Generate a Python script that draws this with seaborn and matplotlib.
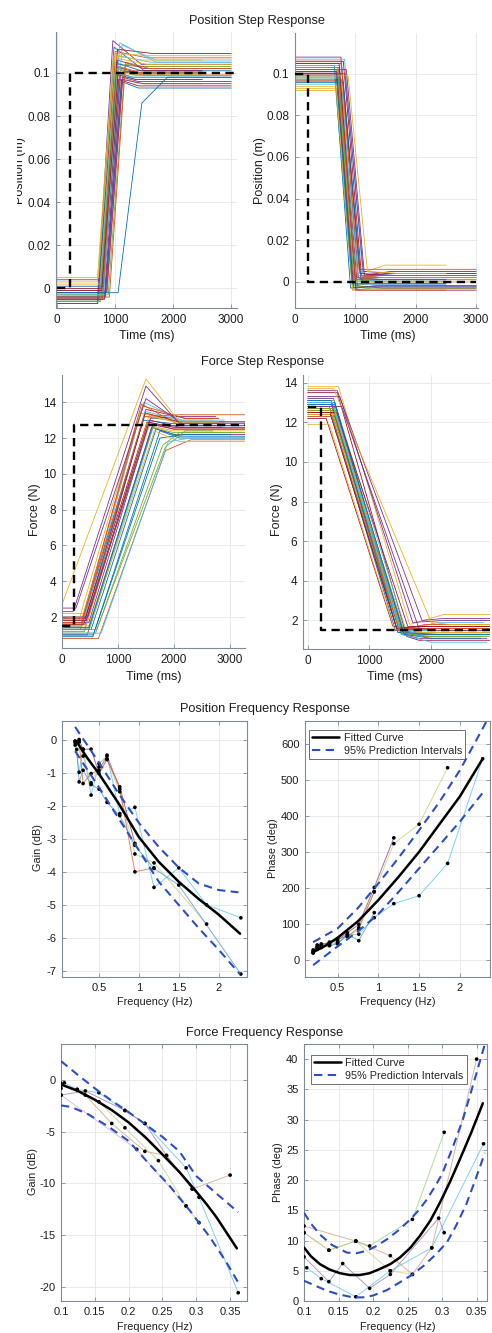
import numpy as np
import pandas as pd
import matplotlib
matplotlib.use('Agg')
import matplotlib.pyplot as plt
import seaborn as sns
from matplotlib.patches import Rectangle

W, H = 492, 1333

# MATLAB default colour order
matlab_colors = ['#0072BD', '#D95319', '#EDB120', '#7E2F8E', '#77AC30', '#4DBEEE', '#A2142F']
BLUE = '#2b4fc2'
AX_GRAY = '#7f8c98'
GRID = '#e2e7ec'

# ---------------- Position step response (up) ----------------
pu_y0 = [-0.006, -0.005, -0.003, -0.007, -0.004, -0.002, -0.006, 0.001, -0.005, -0.003, 0.004, -0.006,
         -0.001, -0.004, -0.007, -0.002, 0.002, -0.005, -0.003, -0.006, 0.000, -0.004, -0.005, 0.005,
         -0.002, -0.006, -0.003, -0.001, -0.002, -0.004, 0.003, -0.005]
pu_t0 = [700, 720, 740, 690, 760, 780, 710, 800, 730, 820, 770, 750, 840, 790, 700, 860,
         740, 810, 880, 720, 760, 830, 780, 710, 850, 740, 800, 770, 1050, 900, 690, 820]
pu_t1 = [980, 1000, 1010, 960, 1040, 1060, 990, 1080, 1000, 1100, 1040, 1030, 1120, 1060, 980, 1140,
         1020, 1090, 1170, 1000, 1040, 1110, 1060, 990, 1130, 1010, 1080, 1050, 1460, 1180, 970, 1110]
pu_pk = [0.112, 0.104, 0.101, 0.115, 0.099, 0.108, 0.103, 0.100, 0.110, 0.098, 0.106, 0.102, 0.113,
         0.097, 0.105, 0.101, 0.109, 0.099, 0.104, 0.100, 0.111, 0.096, 0.103, 0.107, 0.098, 0.102,
         0.114, 0.100, 0.086, 0.105, 0.108, 0.097]
pu_t2 = [1500, 1400, 1300, 1450, 1350, 1600, 1400, 1300, 1550, 1400, 1500, 1350, 1700, 1400, 1450, 1500,
         1600, 1350, 1500, 1300, 1650, 1400, 1450, 1550, 1400, 1350, 1700, 1400, 1900, 1600, 1450, 1500]
pu_yf = [0.101, 0.103, 0.099, 0.104, 0.097, 0.105, 0.100, 0.098, 0.107, 0.095, 0.102, 0.100, 0.106,
         0.094, 0.101, 0.099, 0.108, 0.097, 0.103, 0.098, 0.109, 0.093, 0.100, 0.104, 0.096, 0.099,
         0.105, 0.101, 0.098, 0.102, 0.106, 0.095]
pu_tend = [3000, 2500, 3000, 3000, 2500, 3000, 2500, 3000, 3000, 2500, 3000, 2500, 3000, 3000, 2500, 3000,
           3000, 2500, 3000, 2500, 3000, 3000, 2500, 3000, 3000, 2500, 3000, 2500, 3000, 3000, 2500, 3000]
pu_ref_t = [0, 220, 220, 3100]
pu_ref_v = [0, 0, 0.1, 0.1]

# ---------------- Position step response (down) ----------------
pd_y0 = [0.104, 0.100, 0.097, 0.108, 0.102, 0.095, 0.106, 0.099, 0.101, 0.093, 0.103, 0.098, 0.107,
         0.100, 0.096, 0.105, 0.092, 0.102, 0.099, 0.104, 0.097, 0.101, 0.106, 0.094, 0.100, 0.103,
         0.098, 0.105, 0.096, 0.102, 0.099, 0.101]
pd_t0 = [650, 700, 720, 760, 680, 740, 800, 690, 710, 780, 730, 660, 820, 750, 700, 770,
         690, 850, 720, 740, 790, 680, 760, 710, 830, 700, 750, 730, 800, 720, 880, 690]
pd_t1 = [920, 980, 1000, 1050, 950, 1020, 1100, 960, 990, 1070, 1010, 940, 1120, 1030, 980, 1060,
         960, 1150, 1000, 1020, 1080, 950, 1040, 990, 1130, 980, 1040, 1010, 1090, 1000, 1200, 970]
pd_bot = [-0.003, 0.001, -0.002, 0.002, -0.004, 0.000, 0.003, -0.001, 0.002, 0.004, -0.003, 0.000,
          0.004, -0.002, 0.001, 0.006, -0.004, 0.003, 0.001, -0.003, 0.004, -0.001, 0.002, 0.000,
          0.005, -0.002, 0.003, -0.004, 0.001, 0.002, 0.005, -0.003]
pd_t2 = [1300, 1400, 1350, 1500, 1300, 1450, 1600, 1350, 1400, 1500, 1350, 1300, 1700, 1450, 1400, 1550,
         1300, 1650, 1400, 1350, 1500, 1300, 1450, 1400, 1600, 1350, 1500, 1300, 1550, 1400, 1700, 1350]
pd_yf = [-0.002, 0.003, 0.000, 0.004, -0.003, 0.001, 0.005, -0.001, 0.002, 0.008, -0.002, 0.001,
         0.003, -0.003, 0.002, 0.006, -0.004, 0.004, 0.000, -0.002, 0.003, -0.001, 0.001, 0.000,
         0.004, -0.003, 0.002, -0.004, 0.001, 0.003, 0.004, -0.002]
pd_tend = [3000, 2500, 3000, 2500, 3000, 2500, 3000, 2500, 3000, 2500, 3000, 2500, 3000, 3000, 2500, 3000,
           2500, 3000, 2500, 3000, 3000, 2500, 3000, 2500, 3000, 3000, 2500, 3000, 2500, 3000, 2500, 3000]
pd_ref_t = [0, 215, 215, 3000]
pd_ref_v = [0.1, 0.1, 0, 0]

# ---------------- Force step response (up) ----------------
fu_y0 = [1.5, 1.2, 1.8, 1.0, 2.0, 1.4, 1.6, 0.9, 1.3, 2.2, 1.7, 1.1, 1.5, 1.9, 1.3, 0.8,
         1.6, 2.5, 1.4, 1.2, 1.8, 1.0, 1.7, 1.5, 2.0, 1.3, 1.1, 1.6, 1.4, 1.9, 2.7, 2.3]
fu_t0 = [350, 400, 300, 450, 380, 500, 420, 550, 330, 450, 480, 600, 360, 410, 520, 650,
         440, 250, 470, 390, 430, 560, 340, 500, 460, 620, 700, 390, 480, 370, 0, 200]
fu_t1 = [1450, 1520, 1380, 1600, 1470, 1650, 1500, 1750, 1420, 1560, 1580, 1800, 1460, 1520, 1680, 1850,
         1560, 1500, 1620, 1480, 1530, 1750, 1440, 1650, 1570, 1850, 1900, 1490, 1620, 1460, 1500, 1500]
fu_pk = [13.0, 12.9, 13.4, 12.6, 13.2, 12.8, 13.6, 12.4, 13.9, 12.7, 13.1, 11.6, 14.0, 12.9, 12.5, 11.3,
         13.3, 14.2, 12.6, 13.5, 12.8, 12.0, 13.8, 12.4, 13.0, 11.5, 11.8, 13.4, 12.7, 13.2, 15.3, 14.9]
fu_t2 = [2000, 2000, 2100, 2000, 2100, 2000, 2200, 2100, 2100, 2000, 2100, 2100, 2200, 2000, 2100, 2300,
         2100, 2200, 2000, 2100, 2000, 2200, 2200, 2100, 2100, 2200, 2300, 2100, 2000, 2100, 2100, 2100]
fu_yf = [12.8, 12.5, 13.0, 12.2, 12.9, 12.6, 13.1, 12.0, 12.7, 12.4, 13.2, 12.3, 12.9, 12.6, 12.1, 11.9,
         12.8, 12.7, 12.3, 13.0, 12.5, 12.2, 13.1, 11.8, 12.6, 12.4, 12.0, 12.9, 12.7, 13.3, 12.9, 12.8]
fu_tend = [2800, 3270, 2700, 3270, 2900, 3270, 2800, 3270, 3000, 3270, 2750, 3270, 3270, 2850, 3270, 3270,
           2700, 3270, 3270, 2900, 3270, 3000, 2800, 3270, 3270, 2700, 3270, 3270, 2950, 3270, 2800, 3270]
fu_ref_t = [0, 215, 215, 3270]
fu_ref_v = [1.5, 1.5, 12.75, 12.75]

# ---------------- Force step response (down) ----------------
fd_y0 = [12.8, 13.0, 12.5, 13.2, 12.7, 12.3, 13.5, 12.9, 12.6, 13.8, 12.4, 13.1, 12.8, 12.2, 13.0, 12.7,
         11.9, 13.3, 12.6, 12.9, 12.5, 13.1, 12.8, 12.4, 13.6, 12.7, 13.0, 12.5, 12.9, 12.3, 13.7, 12.8]
fd_t0 = [350, 380, 400, 420, 360, 450, 480, 390, 410, 500, 370, 430, 460, 300, 440, 400,
         350, 520, 390, 410, 470, 380, 430, 450, 480, 420, 400, 360, 440, 390, 420, 550]
fd_t1 = [1420, 1460, 1500, 1520, 1430, 1560, 1600, 1480, 1500, 1650, 1450, 1530, 1580, 1380, 1540, 1490,
         1400, 1700, 1480, 1510, 1620, 1460, 1540, 1560, 1850, 1520, 1500, 1440, 1560, 1480, 2000, 1800]
fd_bot = [1.5, 1.4, 1.6, 1.3, 1.7, 1.5, 1.2, 1.6, 1.4, 1.8, 1.5, 1.3, 1.6, 1.7, 1.4, 1.5,
          1.6, 1.9, 1.5, 1.3, 1.7, 1.4, 1.6, 1.5, 2.0, 1.4, 1.5, 1.6, 1.3, 1.5, 1.9, 1.6]
fd_t2 = [1800, 1900, 2000, 1800, 1900, 2100, 1800, 2000, 1900, 2200, 1800, 2000, 1900, 1800, 2100, 1900,
         1800, 2200, 1900, 2000, 2100, 1800, 2000, 1900, 2200, 1900, 2000, 1800, 2000, 1900, 2300, 2100]
fd_yf = [1.4, 1.2, 1.8, 1.1, 1.6, 1.9, 1.0, 1.5, 1.3, 2.3, 1.6, 1.2, 1.7, 1.5, 1.3, 1.8,
         1.4, 2.0, 1.5, 0.9, 1.7, 1.3, 1.6, 1.4, 2.1, 1.2, 1.5, 1.7, 1.1, 1.6, 1.8, 1.5]
fd_tend = [2950, 2800, 2950, 2900, 2950, 2850, 2950, 2950, 2800, 2950, 2900, 2950, 2950, 2850, 2950, 2950,
           2800, 2950, 2950, 2900, 2950, 2950, 2850, 2950, 2950, 2900, 2950, 2950, 2800, 2950, 2950, 2950]
fd_ref_t = [0, 220, 220, 2950]
fd_ref_v = [12.75, 12.75, 1.5, 1.5]

# ---------------- Position frequency response ----------------
pg_f = [[0.2, 0.25, 0.3, 0.4, 0.5, 0.6, 0.76, 0.95, 1.19, 1.5, 1.85, 2.28],
        [0.2, 0.25, 0.3, 0.4, 0.5, 0.6, 0.76, 0.95, 1.19, 1.85],
        [0.2, 0.25, 0.3, 0.4, 0.5, 0.6, 0.76, 0.95],
        [0.2, 0.25, 0.3, 0.4, 0.5, 0.6, 0.76, 0.95, 1.19],
        [0.22, 0.25, 0.3, 0.4, 0.5, 0.6, 0.76, 0.95, 1.19, 1.5, 2.28]]
pg_g = [[-0.05, -0.99, -0.29, -1.68, -0.73, -0.5, -2.24, -2.05, -4.47, -3.88, -5.0, -5.39],
        [-0.1, -0.05, -0.5, -1.31, -0.83, -0.6, -1.58, -3.46, -3.73, -5.58],
        [-0.05, 0.0, -0.3, -0.29, -1.03, -0.6, -1.43, -3.14],
        [-0.17, -0.07, -1.33, -1.03, -0.93, -0.47, -1.5, -4.0, -3.88],
        [-0.3, -1.28, -0.93, -1.36, -1.5, -1.9, -2.3, -3.2, -3.9, -4.4, -7.09]]
pg_fit_f = [0.22, 0.35, 0.5, 0.75, 1.0, 1.25, 1.5, 1.75, 2.0, 2.27]
pg_fit_g = [-0.07, -0.55, -1.04, -1.95, -2.95, -3.7, -4.3, -4.82, -5.29, -5.87]
pg_up_f = [0.2, 0.5, 0.75, 1.0, 1.25, 1.5, 1.75, 2.0, 2.25]
pg_up_g = [0.38, -0.7, -1.65, -2.52, -3.25, -3.87, -4.35, -4.55, -4.62]
pg_lo_f = [0.2, 0.5, 0.75, 1.0, 1.25, 1.5, 1.75, 2.0, 2.27]
pg_lo_g = [-0.35, -1.45, -2.4, -3.35, -4.3, -5.0, -5.7, -6.35, -7.1]
pg_colors = ['#4DBEEE', '#c2c86a', '#7E2F8E', '#D95319', '#3b8fd0']

pp_f = [[0.2, 0.25, 0.3, 0.4, 0.5, 0.62, 0.76, 0.95, 1.19, 1.5, 1.85],
        [0.2, 0.25, 0.3, 0.4, 0.5, 0.62, 0.76, 0.95, 1.19, 1.5, 1.85, 2.28],
        [0.2, 0.25, 0.3, 0.4, 0.5, 0.62, 0.76, 0.95, 1.19],
        [0.2, 0.25, 0.3, 0.4, 0.5, 0.62, 0.76, 0.95],
        [0.2, 0.25, 0.3, 0.4, 0.5, 0.62, 0.76, 0.95]]
pp_ph = [[22, 35, 40, 45, 50, 65, 85, 190, 324, 378, 535],
         [20, 30, 38, 42, 48, 70, 72, 118, 157, 179, 269, 560],
         [25, 38, 42, 50, 55, 76, 99, 202, 340],
         [28, 42, 45, 48, 60, 66, 90, 190],
         [20, 32, 35, 40, 45, 72, 54, 132]]
pp_fit_f = [0.2, 0.35, 0.5, 0.75, 1.0, 1.25, 1.5, 1.75, 2.0, 2.28]
pp_fit_ph = [22, 40, 62, 108, 167, 232, 301, 378, 455, 560]
pp_up_f = [0.2, 0.5, 0.75, 1.0, 1.25, 1.5, 1.75, 2.0, 2.33]
pp_up_ph = [50, 88, 145, 213, 285, 361, 440, 528, 665]
pp_lo_f = [0.2, 0.5, 0.75, 1.0, 1.25, 1.5, 1.75, 2.0, 2.28]
pp_lo_ph = [-14, 38, 80, 128, 190, 255, 320, 385, 465]
pp_colors = ['#c2c86a', '#4DBEEE', '#7E2F8E', '#D95319', '#3b8fd0']

# ---------------- Force frequency response ----------------
fg_f = [[0.1, 0.105, 0.124, 0.156, 0.1945, 0.224, 0.285, 0.304, 0.362],
        [0.1, 0.124, 0.156, 0.1945, 0.244, 0.285, 0.304],
        [0.1, 0.136, 0.175, 0.224, 0.256, 0.294, 0.35],
        [0.1, 0.136, 0.1945, 0.224, 0.256, 0.294],
        [0.1, 0.212, 0.285]]
fg_g = [[-0.8, -0.26, -0.9, -1.22, -2.94, -4.2, -8.5, -11.35, -20.6],
        [-0.5, -0.9, -2.1, -4.62, -7.8, -12.2, -13.8],
        [-0.3, -1.45, -4.2, -6.9, -7.3, -10.55, -9.2],
        [-1.45, -1.05, -2.94, -4.2, -7.3, -10.55],
        [-1.45, -6.7, -12.2]]
fg_fit_f = [0.1, 0.125, 0.15, 0.175, 0.2, 0.225, 0.25, 0.275, 0.3, 0.315, 0.33, 0.345, 0.36]
fg_fit_g = [-0.42, -1.05, -1.9, -2.9, -4.1, -5.55, -7.2, -8.9, -10.8, -12.0, -13.3, -14.8, -16.3]
fg_up_f = [0.1, 0.125, 0.15, 0.175, 0.2, 0.225, 0.25, 0.275, 0.3, 0.33, 0.362]
fg_up_g = [1.84, 0.5, -0.8, -2.0, -3.1, -4.3, -5.5, -6.9, -9.3, -11.0, -12.8]
fg_lo_f = [0.1, 0.115, 0.14, 0.17, 0.2, 0.23, 0.26, 0.29, 0.32, 0.345, 0.362]
fg_lo_g = [-2.45, -2.6, -3.3, -4.5, -5.9, -8.1, -10.2, -12.6, -15.2, -17.7, -19.6]
fg_colors = ['#4DBEEE', '#b7cf7a', '#c9977a', '#9a6fa6', '#c9a6c9']

fp_f = [[0.1, 0.136, 0.175, 0.195, 0.257, 0.303],
        [0.1, 0.175, 0.225, 0.257, 0.285, 0.35],
        [0.1, 0.136, 0.156, 0.195, 0.225, 0.295, 0.303],
        [0.104, 0.125, 0.175, 0.225, 0.285, 0.36],
        [0.1, 0.136, 0.175, 0.225, 0.257]]
fp_ph = [[11.3, 8.4, 9.9, 9.1, 13.5, 27.9],
         [12.4, 9.9, 7.5, 4.4, 8.8, 40.0],
         [7.3, 3.2, 6.2, 2.1, 4.4, 13.7, 11.3],
         [5.5, 3.7, 0.7, 5.0, 8.8, 26.0],
         [11.3, 8.4, 9.9, 5.0, 4.4]]
fp_fit_f = [0.1, 0.11, 0.123, 0.137, 0.152, 0.166, 0.181, 0.195, 0.21, 0.225, 0.239, 0.254, 0.268,
            0.283, 0.297, 0.311, 0.326, 0.342, 0.359]
fp_fit_ph = [8.85, 7.4, 6.1, 5.2, 4.6, 4.3, 4.3, 4.6, 5.3, 6.1, 7.2, 8.8, 10.8,
             13.3, 16.3, 19.6, 23.5, 27.8, 32.7]
fp_up_f = [0.1, 0.11, 0.123, 0.14, 0.162, 0.176, 0.191, 0.205, 0.22, 0.237, 0.254, 0.266, 0.278,
           0.29, 0.3, 0.315, 0.33, 0.345, 0.362]
fp_up_ph = [14.6, 12.8, 11.0, 9.3, 8.0, 7.9, 8.3, 9.1, 10.2, 11.7, 13.5, 15.0, 16.8,
            19.0, 21.0, 25.3, 30.0, 35.8, 42.5]
fp_lo_f = [0.1, 0.115, 0.133, 0.15, 0.171, 0.185, 0.2, 0.22, 0.239, 0.256, 0.273, 0.29, 0.307,
           0.32, 0.335, 0.348, 0.362]
fp_lo_ph = [3.35, 2.6, 1.7, 1.1, 0.6, 0.6, 0.9, 1.8, 3.1, 4.3, 5.8, 7.6, 9.7,
            12.4, 16.0, 20.0, 24.5]
fp_colors = ['#8fc97a', '#c9977a', '#9a6fa6', '#4DBEEE', '#d8c27a']


def ax_at(fig, left, top, right, bottom):
    return fig.add_axes([left / W, 1 - bottom / H, (right - left) / W, (bottom - top) / H])


def style(ax, box, fs):
    for s in ['left', 'bottom', 'top', 'right']:
        ax.spines[s].set_visible(box or s in ('left', 'bottom'))
        ax.spines[s].set_color(AX_GRAY)
        ax.spines[s].set_linewidth(0.8)
    ax.set_facecolor('white')
    ax.grid(True, color=GRID, lw=0.6)
    ax.set_axisbelow(True)
    ax.tick_params(direction='in', length=3, width=0.6, color=AX_GRAY, labelcolor='#1e1e1e',
                   labelsize=fs, top=box, right=box, bottom=True, left=True, pad=4)
    ax.set_xlabel('')
    ax.set_ylabel('')


def set_ticks(ax, xt, yt):
    ax.set_xticks(xt)
    ax.set_xticklabels(['%g' % v for v in xt])
    ax.set_yticks(yt)
    ax.set_yticklabels(['%g' % v for v in yt])


def step_frame(y0, t0, t1, pk, t2, yf, tend):
    rows = []
    for i in range(len(y0)):
        ts = [0, t0[i], t1[i], t2[i], tend[i]]
        vs = [y0[i], y0[i], pk[i], yf[i], yf[i]]
        for t, v in zip(ts, vs):
            rows.append(('r%d' % i, t, v))
    return pd.DataFrame(rows, columns=['trial', 't', 'v'])


def draw_step(ax, df, ref_t, ref_v):
    n = df['trial'].nunique()
    pal = [matlab_colors[i % 7] for i in range(n)]
    sns.lineplot(data=df, x='t', y='v', hue='trial', palette=pal, estimator=None, sort=False,
                 legend=False, lw=0.6, ax=ax)
    ax.plot(ref_t, ref_v, color='black', lw=1.7, ls=(0, (3.5, 2.3)), zorder=5)


def freq_frame(fs, vs):
    rows = []
    for i, (f, v) in enumerate(zip(fs, vs)):
        for a, b in zip(f, v):
            rows.append(('s%d' % i, a, b))
    return pd.DataFrame(rows, columns=['subj', 'f', 'v'])


def draw_freq(ax, fs, vs, colors, fit_f, fit_v, up_f, up_v, lo_f, lo_v):
    df = freq_frame(fs, vs)
    sns.lineplot(data=df, x='f', y='v', hue='subj', palette=colors[:len(fs)], estimator=None,
                 sort=False, legend=False, lw=0.7, alpha=0.7, ax=ax)
    sns.scatterplot(data=df, x='f', y='v', color='black', s=7, edgecolor='none', ax=ax, zorder=4)
    h1, = ax.plot(fit_f, fit_v, color='black', lw=1.8, zorder=5, solid_joinstyle='round')
    h2, = ax.plot(up_f, up_v, color=BLUE, lw=1.5, ls=(0, (4, 2.6)), zorder=6)
    ax.plot(lo_f, lo_v, color=BLUE, lw=1.5, ls=(0, (4, 2.6)), zorder=6)
    return h1, h2


def add_legend(ax, h1, h2, anchor):
    leg = ax.legend([h1, h2], ['Fitted Curve', '95% Prediction Intervals'], loc='upper left',
                    bbox_to_anchor=anchor, fontsize=7.8, handlelength=2.5, handletextpad=0.4,
                    borderpad=0.3, labelspacing=0.25, fancybox=False, framealpha=1, borderaxespad=0)
    leg.get_frame().set_edgecolor('#6f6f6f')
    leg.get_frame().set_linewidth(0.7)


sns.set_theme(style='whitegrid')
plt.rcParams['font.family'] = ['Liberation Sans', 'DejaVu Sans']
plt.rcParams['axes.unicode_minus'] = False

fig = plt.figure(figsize=(W / 100, H / 100), dpi=100)
fig.patch.set_facecolor('white')

# row 1: position step
ax1 = ax_at(fig, 56, 32, 237, 308)
draw_step(ax1, step_frame(pu_y0, pu_t0, pu_t1, pu_pk, pu_t2, pu_yf, pu_tend), pu_ref_t, pu_ref_v)
style(ax1, False, 8.5)
set_ticks(ax1, [0, 1000, 2000, 3000], [0, 0.02, 0.04, 0.06, 0.08, 0.1])
ax1.set_xlim(-20, 3100)
ax1.set_ylim(-0.0091, 0.119)

ax2 = ax_at(fig, 295, 33, 478, 308)
draw_step(ax2, step_frame(pd_y0, pd_t0, pd_t1, pd_bot, pd_t2, pd_yf, pd_tend), pd_ref_t, pd_ref_v)
style(ax2, False, 8.5)
set_ticks(ax2, [0, 1000, 2000, 3000], [0, 0.02, 0.04, 0.06, 0.08, 0.1])
ax2.set_xlim(0, 3030)
ax2.set_ylim(-0.0126, 0.1196)

# row 2: force step
ax3 = ax_at(fig, 62, 375, 245, 648)
draw_step(ax3, step_frame(fu_y0, fu_t0, fu_t1, fu_pk, fu_t2, fu_yf, fu_tend), fu_ref_t, fu_ref_v)
style(ax3, False, 8.5)
set_ticks(ax3, [0, 1000, 2000, 3000], [2, 4, 6, 8, 10, 12, 14])
ax3.set_xlim(0, 3270)
ax3.set_ylim(0.27, 15.52)

ax4 = ax_at(fig, 303, 375, 490, 649)
draw_step(ax4, step_frame(fd_y0, fd_t0, fd_t1, fd_bot, fd_t2, fd_yf, fd_tend), fd_ref_t, fd_ref_v)
style(ax4, False, 8.5)
set_ticks(ax4, [0, 1000, 2000], [2, 4, 6, 8, 10, 12, 14])
ax4.set_xlim(-75, 2950)
ax4.set_ylim(0.56, 14.39)

# row 3: position frequency
ax5 = ax_at(fig, 62, 721, 247, 977)
draw_freq(ax5, pg_f, pg_g, pg_colors, pg_fit_f, pg_fit_g, pg_up_f, pg_up_g, pg_lo_f, pg_lo_g)
style(ax5, True, 8)
set_ticks(ax5, [0.5, 1, 1.5, 2], [-7, -6, -5, -4, -3, -2, -1, 0])
ax5.set_xlim(0.035, 2.357)
ax5.set_ylim(-7.18, 0.56)

ax6 = ax_at(fig, 305, 721, 490, 977)
h1, h2 = draw_freq(ax6, pp_f, pp_ph, pp_colors, pp_fit_f, pp_fit_ph, pp_up_f, pp_up_ph, pp_lo_f, pp_lo_ph)
style(ax6, True, 8)
set_ticks(ax6, [0.5, 1, 1.5, 2], [0, 100, 200, 300, 400, 500, 600])
ax6.set_xlim(0.1, 2.37)
ax6.set_ylim(-47, 665)
add_legend(ax6, h1, h2, (0.022, 0.966))

# row 4: force frequency
ax7 = ax_at(fig, 61, 1044, 247, 1301)
draw_freq(ax7, fg_f, fg_g, fg_colors, fg_fit_f, fg_fit_g, fg_up_f, fg_up_g, fg_lo_f, fg_lo_g)
style(ax7, True, 8)
set_ticks(ax7, [0.1, 0.15, 0.2, 0.25, 0.3, 0.35], [-20, -15, -10, -5, 0])
ax7.set_xlim(0.1, 0.375)
ax7.set_ylim(-21.4, 3.5)

ax8 = ax_at(fig, 304, 1044, 487, 1301)
h1, h2 = draw_freq(ax8, fp_f, fp_ph, fp_colors, fp_fit_f, fp_fit_ph, fp_up_f, fp_up_ph, fp_lo_f, fp_lo_ph)
style(ax8, True, 8)
set_ticks(ax8, [0.1, 0.15, 0.2, 0.25, 0.3, 0.35], [0, 5, 10, 15, 20, 25, 30, 35, 40])
ax8.set_xlim(0.1, 0.365)
ax8.set_ylim(0, 42.5)
add_legend(ax8, h1, h2, (0.037, 0.958))


def ftext(x, y, s, size, rot=0):
    fig.text(x / W, 1 - y / H, s, ha='center', va='center', fontsize=size, rotation=rot, color='#1e1e1e')


# titles
ftext(257, 21, 'Position Step Response', 9.2)
ftext(263, 362, 'Force Step Response', 9.2)
ftext(265, 709, 'Position Frequency Response', 9.2)
ftext(265, 1033, 'Force Frequency Response', 9.2)

# axis labels
ftext(147, 336, 'Time (ms)', 9)
ftext(388, 336, 'Time (ms)', 9)
ftext(154, 677, 'Time (ms)', 9)
ftext(395, 677, 'Time (ms)', 9)
ftext(155, 1002, 'Frequency (Hz)', 7.8)
ftext(398, 1002, 'Frequency (Hz)', 7.8)
ftext(155, 1327, 'Frequency (Hz)', 7.8)
ftext(398, 1327, 'Frequency (Hz)', 7.8)

ftext(20, 171, 'Position (m)', 9, 90)
ftext(260, 171, 'Position (m)', 9, 90)
ftext(35, 510, 'Force (N)', 9, 90)
ftext(277, 510, 'Force (N)', 9, 90)
ftext(38, 848, 'Gain (dB)', 7.8, 90)
ftext(273, 848, 'Phase (deg)', 7.8, 90)
ftext(33, 1172, 'Gain (dB)', 7.8, 90)
ftext(278, 1172, 'Phase (deg)', 7.8, 90)

# the left position label is cut off at the image edge in the original
fig.add_artist(Rectangle((0, 1 - 220 / H), 17 / W, 100 / H, transform=fig.transFigure,
                         facecolor='white', edgecolor='none', zorder=20))

fig.savefig('out.png', dpi=100, facecolor='white')
